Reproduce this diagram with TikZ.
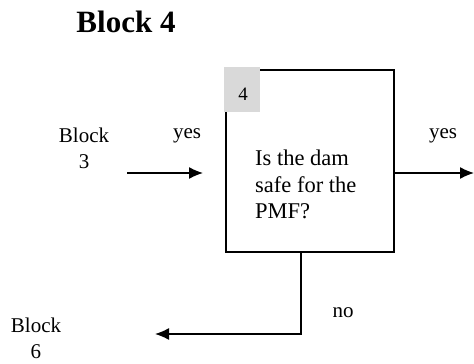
\documentclass[tikz,border=0pt]{standalone}
\usepackage{fontspec}
\setmainfont{Liberation Serif}
\usetikzlibrary{arrows.meta,positioning}

\begin{document}
\begin{tikzpicture}[x=1pt,y=-1pt,
  txt/.style={inner sep=0pt,font=\fontsize{21}{26}\selectfont},
  arr/.style={line width=1.3pt,-{Latex[length=14pt,width=12pt]}}]
\useasboundingbox (0,0) rectangle (474,364);

% Title
\node[inner sep=0pt,font=\fontsize{31}{36}\selectfont\bfseries,anchor=base] (title) at (126,32) {Block 4};

% Decision box
\node[draw,line width=1.5pt,minimum width=168pt,minimum height=182pt,inner sep=0pt] (dam) at (310,161) {};
\node[fill=black!15,minimum width=36pt,minimum height=45pt,inner sep=0pt] (num) at (242,89.5) {};
\node[txt,font=\fontsize{19}{22}\selectfont,anchor=base] (numtxt) at (243,100) {4};
\node[txt,font=\fontsize{22.5}{26.5}\selectfont,align=left,anchor=north west] (quest) at (255,150) {Is the dam\\safe for the\\PMF?};

% Labels
\node[txt,align=center,anchor=north] (blk3) at (84,128) {Block\\3};
\node[txt,align=center,anchor=north] (blk6) at (36,318) {Block\\6};
\node[txt,anchor=base] (yesin) at (187,138) {yes};
\node[txt,anchor=base] (yesout) at (443,138) {yes};
\node[txt,anchor=base] (no) at (343,317) {no};

% Connectors
\coordinate (in3) at (127,173);
\coordinate (in4) at (203,173);
\coordinate (out5) at (474,173);
\coordinate (out6) at (155,334);
\draw[arr] (in3) -- (in4);
\draw[arr] ([yshift=-12pt]dam.east) -- (out5);
\draw[arr] ([xshift=-9pt]dam.south) |- (out6);
\end{tikzpicture}
\end{document}
